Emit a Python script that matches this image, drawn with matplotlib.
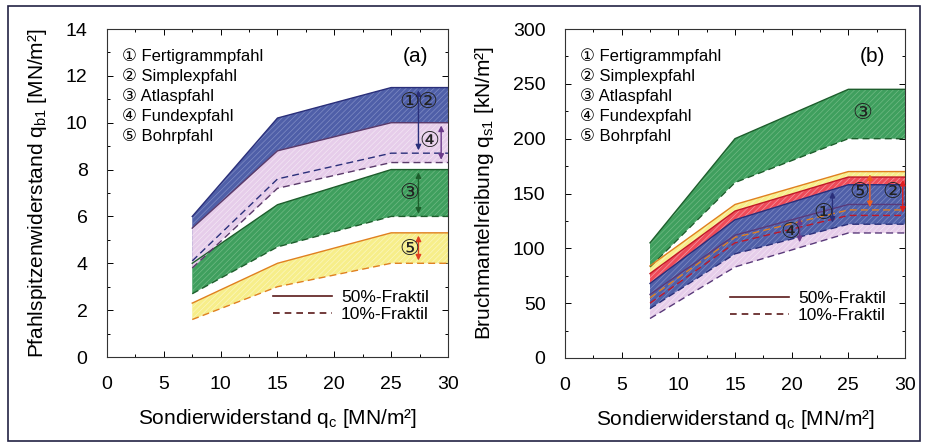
import matplotlib
matplotlib.use("Agg")
import matplotlib.pyplot as plt
from matplotlib.lines import Line2D
from matplotlib.patches import Rectangle
from matplotlib.ticker import MultipleLocator

plt.rcParams['font.family'] = ['Liberation Sans', 'DejaVu Sans']
plt.rcParams['mathtext.fontset'] = 'custom'
plt.rcParams['mathtext.rm'] = 'Liberation Sans'
plt.rcParams['mathtext.it'] = 'Liberation Sans'
plt.rcParams['hatch.linewidth'] = 0.5

# ---------------- data ----------------
qc = [7.5, 15, 25, 30]

names = ["① Fertigrammpfahl", "② Simplexpfahl", "③ Atlaspfahl", "④ Fundexpfahl", "⑤ Bohrpfahl"]

# panel (a): Pfahlspitzenwiderstand [MN/m2]
a_bohr_50 = [2.3, 4.0, 5.3, 5.3]
a_bohr_10 = [1.6, 3.0, 4.0, 4.0]
a_atlas_50 = [4.0, 6.5, 8.0, 8.0]
a_atlas_10 = [2.7, 4.7, 6.0, 6.0]
a_fs_50 = [6.0, 10.2, 11.5, 11.5]   # Fertigramm + Simplex
a_fs_10 = [4.1, 7.6, 8.7, 8.7]
a_fundex_50 = [5.5, 8.8, 10.0, 10.0]
a_fundex_10 = [3.8, 7.2, 8.3, 8.3]

# panel (b): Bruchmantelreibung [kN/m2]
b_atlas_50 = [105, 200, 245, 245]
b_atlas_10 = [83, 160, 200, 200]
b_bohr_50 = [84, 140, 170, 170]
b_bohr_10 = [55, 110, 135, 135]
b_simplex_50 = [77, 134, 165, 165]
b_simplex_10 = [50, 105, 130, 130]
b_fertig_50 = [68, 126, 158, 158]
b_fertig_10 = [45, 95, 122, 122]
b_fundex_50 = [58, 112, 140, 140]
b_fundex_10 = [36, 83, 114, 114]

x_ticks = [0, 5, 10, 15, 20, 25, 30]
a_yticks = [0, 2, 4, 6, 8, 10, 12, 14]
b_yticks = [0, 50, 100, 150, 200, 250, 300]

# colours
C_BLUE = '#4f5fa8'; C_BLUE_H = '#7f8cc4'; C_BLUE_L = '#2a2f7a'
C_PINK = '#e6cdea'; C_PINK_H = '#f3e6f4'; C_PINK_L = '#4a3a80'
C_GREEN = '#3f9f5e'; C_GREEN_H = '#6fb984'; C_GREEN_L = '#1d5e2c'
C_YEL = '#f7ee8a'; C_YEL_H = '#fbf6c0'; C_YEL_L = '#e08020'
C_RED = '#ee4a58'; C_RED_H = '#f49aa2'; C_RED_L = '#c01828'

fig = plt.figure(figsize=(9.28, 4.47), dpi=100)
W, H = 928, 447
axa = fig.add_axes([107 / W, 1 - 357 / H, (448 - 107) / W, (357 - 29) / H])
axb = fig.add_axes([565 / W, 1 - 358 / H, (905 - 565) / W, (358 - 29) / H])


def band(ax, hi, lo, fc, hc, z):
    ax.fill_between(qc, lo, hi, facecolor=fc, edgecolor=hc, hatch='//////', linewidth=0, zorder=z)


def lines(ax, hi, lo, lc, z):
    ax.plot(qc, hi, color=lc, lw=1.0, ls='-', zorder=z)
    ax.plot(qc, lo, color=lc, lw=1.0, ls=(0, (5, 3)), zorder=z)


def darrow(ax, x, y1, y2, c):
    ax.annotate('', xy=(x, y2), xytext=(x, y1),
                arrowprops=dict(arrowstyle='<|-|>', color=c, lw=1.0, mutation_scale=8), zorder=10)


def circ(ax, x, y, s, fs=16):
    ax.text(x, y, s, ha='center', va='center', fontsize=fs, family=['DejaVu Sans'], color='#222222', zorder=11)


# ---- panel a ----
band(axa, a_bohr_50, a_bohr_10, C_YEL, C_YEL_H, 2)
band(axa, a_atlas_50, a_atlas_10, C_GREEN, C_GREEN_H, 2)
band(axa, a_fs_50, a_fs_10, C_BLUE, C_BLUE_H, 2)
band(axa, a_fundex_50, a_fundex_10, C_PINK, C_PINK_H, 3)
lines(axa, a_bohr_50, a_bohr_10, C_YEL_L, 5)
lines(axa, a_atlas_50, a_atlas_10, C_GREEN_L, 5)
lines(axa, a_fs_50, a_fs_10, C_BLUE_L, 5)
lines(axa, a_fundex_50, a_fundex_10, '#5a3a6a', 5)

darrow(axa, 27.4, a_fs_50[-1], a_fs_10[-1], C_BLUE_L)
darrow(axa, 29.4, a_fundex_50[-1], a_fundex_10[-1], '#6a3a8a')
darrow(axa, 27.4, a_atlas_50[-1], a_atlas_10[-1], C_GREEN_L)
darrow(axa, 27.4, a_bohr_50[-1], a_bohr_10[-1], '#e04020')
circ(axa, 26.6, 10.9, '①'); circ(axa, 28.2, 10.9, '②')
circ(axa, 28.4, 9.2, '④')
circ(axa, 26.6, 7.0, '③')
circ(axa, 26.6, 4.6, '⑤')

# ---- panel b ----
band(axb, b_atlas_50, b_atlas_10, C_GREEN, C_GREEN_H, 2)
band(axb, b_bohr_50, b_bohr_10, C_YEL, C_YEL_H, 2)
band(axb, b_simplex_50, b_simplex_10, C_RED, C_RED_H, 3)
band(axb, b_fundex_50, b_fundex_10, C_PINK, C_PINK_H, 4)
band(axb, b_fertig_50, b_fertig_10, C_BLUE, C_BLUE_H, 4)
lines(axb, b_atlas_50, b_atlas_10, C_GREEN_L, 6)
lines(axb, b_bohr_50, b_bohr_10, C_YEL_L, 6)
lines(axb, b_simplex_50, b_simplex_10, C_RED_L, 6)
lines(axb, b_fertig_50, b_fertig_10, C_BLUE_L, 6)
lines(axb, b_fundex_50, b_fundex_10, '#5a3a7a', 6)

darrow(axb, 23.6, 154, 121, C_BLUE_L)
darrow(axb, 26.9, b_bohr_50[-1], b_bohr_10[-1], '#f06020')
darrow(axb, 29.8, b_simplex_50[-1], b_simplex_10[-1], '#e02020')
darrow(axb, 20.7, 130, 103, '#6a3a8a')
circ(axb, 26.2, 223, '③')
circ(axb, 26.0, 151, '⑤')
circ(axb, 28.9, 151, '②')
circ(axb, 22.8, 132, '①')
circ(axb, 19.9, 115, '④')

# ---- common styling ----
for ax, yt, ymax, ymin_minor, lab, ylab in [
        (axa, a_yticks, 14, 1, '(a)', r'Pfahlspitzenwiderstand q$_{\mathrm{b1}}$ [MN/m²]'),
        (axb, b_yticks, 300, 25, '(b)', r'Bruchmantelreibung q$_{\mathrm{s1}}$ [kN/m²]')]:
    ax.set_xlim(0, 30)
    ax.set_ylim(0, ymax)
    ax.set_xticks(x_ticks)
    ax.set_yticks(yt)
    ax.xaxis.set_minor_locator(MultipleLocator(2.5))
    ax.yaxis.set_minor_locator(MultipleLocator(ymin_minor))
    ax.tick_params(which='both', direction='in', top=True, right=True, labelsize=14)
    ax.tick_params(axis='x', pad=14)
    ax.tick_params(axis='y', pad=14)
    ax.tick_params(which='major', length=4, width=0.7)
    ax.tick_params(which='minor', length=2.5, width=0.7)
    for s in ax.spines.values():
        s.set_linewidth(0.8)
        s.set_color('#333333')
    ax.set_xlabel(r'Sondierwiderstand q$_{\mathrm{c}}$ [MN/m²]', fontsize=15, labelpad=10)
    ax.set_ylabel(ylab, fontsize=15, labelpad=12)
    ax.text(0.905, 0.915, lab, transform=ax.transAxes, fontsize=15, ha='center', va='center')
    for i, nm in enumerate(names):
        ax.text(0.045, 0.918 - i * 0.061, nm, transform=ax.transAxes, fontsize=12,
                ha='left', va='center', family=['Liberation Sans', 'DejaVu Sans'], zorder=12)
    hl = [Line2D([], [], color='#5a1a1a', lw=1.2, ls='-'),
          Line2D([], [], color='#5a1a1a', lw=1.2, ls=(0, (4, 3)))]
    ax.legend(hl, ['50%-Fraktil', '10%-Fraktil'], loc='lower right', bbox_to_anchor=(0.99, 0.06),
              frameon=False, fontsize=12.5, handlelength=3.4, handletextpad=0.5, labelspacing=0.1)

fig.patches.append(Rectangle((8 / W, 6 / H), (920 - 8) / W, (441 - 6) / H, transform=fig.transFigure,
                             fill=False, edgecolor='#222244', lw=1.2))

fig.savefig('out.png', dpi=100)
